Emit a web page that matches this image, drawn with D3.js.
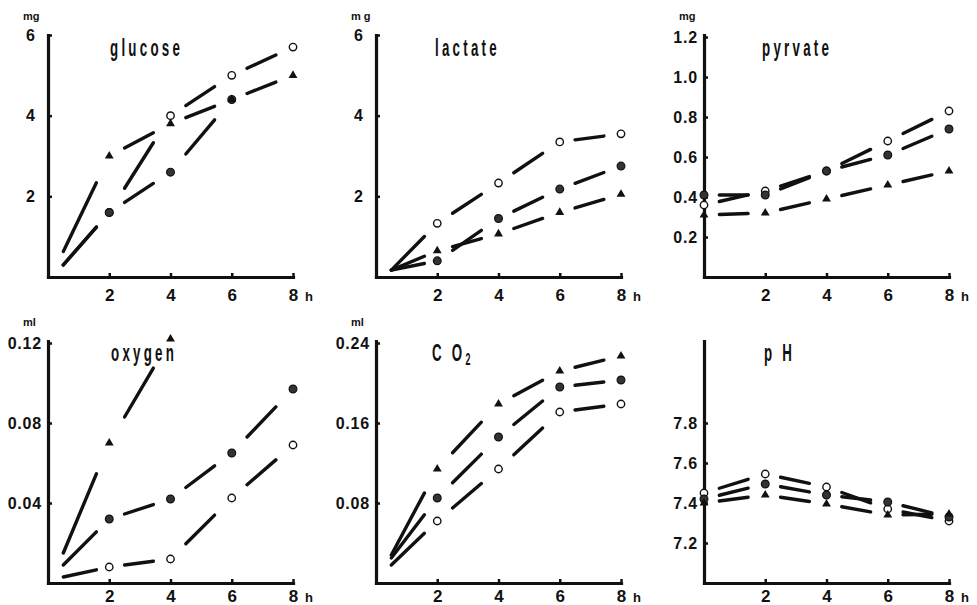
<!DOCTYPE html>
<html>
<head>
<meta charset="utf-8">
<script src="https://cdn.jsdelivr.net/npm/d3@7"></script>
<style>
  body { margin: 0; background: #fff; }
  svg { display: block; }
  .tick text { font-family: "Liberation Sans", Arial, sans-serif; font-weight: bold; }
</style>
</head>
<body>
<div id="chart"></div>
<script>
// DATA
const hoursLate = [0.5, 2, 4, 6, 8];   // first sample has no marker
const hoursZero = [0, 2, 4, 6, 8];

const glucoseOpen   = [0.3, 1.6, 4.0, 5.0, 5.7];
const glucoseFilled = [0.3, 1.6, 2.6, 4.4, null];
const glucoseTri    = [0.63, 3.0, 3.8, 4.4, 5.0];

const lactateOpen   = [0.17, 1.33, 2.33, 3.35, 3.55];
const lactateFilled = [0.17, 0.4, 1.45, 2.18, 2.75];
const lactateTri    = [0.17, 0.65, 1.07, 1.6, 2.05];

const pyruvateOpen   = [0.36, 0.43, 0.53, 0.68, 0.83];
const pyruvateFilled = [0.41, 0.41, 0.53, 0.61, 0.74];
const pyruvateTri    = [0.31, 0.32, 0.39, 0.46, 0.53];

const oxygenOpen   = [0.003, 0.008, 0.012, 0.0425, 0.069];
const oxygenFilled = [0.009, 0.032, 0.042, 0.065, 0.097];
const oxygenTri    = [0.015, 0.070, 0.122, null, null];

const co2Open   = [0.018, 0.062, 0.114, 0.171, 0.179];
const co2Filled = [0.025, 0.085, 0.146, 0.196, 0.203];
const co2Tri    = [0.028, 0.114, 0.179, 0.212, 0.227];

const phOpen   = [7.45, 7.545, 7.48, 7.37, 7.31];
const phFilled = [7.42, 7.495, 7.44, 7.405, 7.33];
const phTri    = [7.40, 7.44, 7.395, 7.34, 7.345];

const xTicks = [2, 4, 6, 8];
const mgTicks = [2, 4, 6];
const pyrTicks = [0.2, 0.4, 0.6, 0.8, 1.0, 1.2];
const o2Ticks = [0.04, 0.08, 0.12];
const co2Ticks = [0.08, 0.16, 0.24];
const phTicks = [7.2, 7.4, 7.6, 7.8];

// PANELS
const panels = [
  { title: "glucose", unit: "mg", col: 0, row: 0, hours: hoursLate, yDom: [0, 6], ticks: mgTicks, fmt: d3.format("d"),
    open: glucoseOpen, filled: glucoseFilled, tri: glucoseTri, titleX: 110 },
  { title: "lactate", unit: "m g", col: 1, row: 0, hours: hoursLate, yDom: [0, 6], ticks: mgTicks, fmt: d3.format("d"),
    open: lactateOpen, filled: lactateFilled, tri: lactateTri, titleX: 435 },
  { title: "pyrvate", unit: "mg", col: 2, row: 0, hours: hoursZero, yDom: [0, 1.21], ticks: pyrTicks, fmt: d3.format(".1f"),
    open: pyruvateOpen, filled: pyruvateFilled, tri: pyruvateTri, titleX: 762 },
  { title: "oxygen", unit: "ml", col: 0, row: 1, hours: hoursLate, yDom: [0, 0.121], ticks: o2Ticks, fmt: d3.format(".2f"),
    open: oxygenOpen, filled: oxygenFilled, tri: oxygenTri, titleX: 111 },
  { title: "CO2", unit: "ml", col: 1, row: 1, hours: hoursLate, yDom: [0, 0.242], ticks: co2Ticks, fmt: d3.format(".2f"),
    open: co2Open, filled: co2Filled, tri: co2Tri, titleX: 432 },
  { title: "pH", unit: "", col: 2, row: 1, hours: hoursZero, yDom: [7.0, 8.21], ticks: phTicks, fmt: d3.format(".1f"),
    open: phOpen, filled: phFilled, tri: phTri, titleX: 764 }
];

const width = 977, height = 605;
const colX = [48, 376, 704];
const rowBottom = [277, 583];
const rowTitleBase = [56, 361];
const rowLabelDy = [24, 19];
const plotW = 245, plotH = 242;

const svg = d3.select("#chart").append("svg")
  .attr("width", width)
  .attr("height", height);

panels.forEach(p => {
  const x0 = colX[p.col], yb = rowBottom[p.row];
  const x = d3.scaleLinear().domain([0, 8]).range([x0, x0 + plotW]);
  const y = d3.scaleLinear().domain(p.yDom).range([yb, yb - plotH]);
  const g = svg.append("g");
  const short = p.fmt(p.ticks[0]).length == 1;

  // axes
  const yAxis = g.append("g")
    .attr("transform", `translate(${x0},0)`)
    .call(d3.axisLeft(y).tickValues(p.ticks).tickFormat(p.fmt).tickSize(-4).tickSizeOuter(0)
      .tickPadding(short ? 13 : 6));
  yAxis.selectAll("text").attr("font-size", 16).attr("fill", "#111")
    .attr("letter-spacing", short ? 0 : 0.8);

  const xAxis = g.append("g")
    .attr("transform", `translate(0,${yb})`)
    .call(d3.axisBottom(x).tickValues(xTicks).tickSize(-4).tickSizeOuter(0).tickPadding(0));
  xAxis.selectAll("text").attr("font-size", 17).attr("fill", "#111")
    .attr("dy", null).attr("y", rowLabelDy[p.row]);

  [yAxis, xAxis].forEach(a => {
    a.select(".domain").attr("stroke", "#111").attr("stroke-width", 3.2).attr("stroke-linecap", "square");
    a.selectAll(".tick line").attr("stroke", "#111").attr("stroke-width", 2.5);
  });

  g.append("text")
    .attr("x", x(8) + 12).attr("y", yb + rowLabelDy[p.row])
    .attr("font-family", "Liberation Sans, Arial, sans-serif").attr("font-weight", "bold")
    .attr("font-size", 13).attr("fill", "#111")
    .text("h");

  if (p.unit) {
    g.append("text")
      .attr("x", x0 - 25).attr("y", yb - plotH - 15)
      .attr("font-family", "Liberation Sans, Arial, sans-serif").attr("font-weight", "bold")
      .attr("font-size", 11).attr("fill", "#111")
      .text(p.unit);
  }

  // title, squeezed sideways and stretched up like the condensed original
  const t = g.append("g")
    .attr("transform", `translate(${p.titleX},${rowTitleBase[p.row]}) scale(0.74,1.32)`)
    .append("text")
    .attr("font-family", "Liberation Sans, Arial, sans-serif")
    .attr("font-weight", "bold").attr("font-size", 18)
    .attr("letter-spacing", 4.4).attr("fill", "#111");
  if (p.title == "CO2") {
    t.append("tspan").text("C O");
    t.append("tspan").attr("font-size", 12).attr("dy", 3).text("2");
  } else if (p.title == "pH") {
    t.text("p H");
  } else {
    t.text(p.title);
  }

  // dashed segments: one dash per interval, gaps at the markers
  const series = [p.open, p.filled, p.tri];
  const segs = [];
  series.forEach(vals => {
    for (let i = 0; i < vals.length - 1; i++) {
      if (vals[i] == null || vals[i + 1] == null) continue;
      const ax = x(p.hours[i]), ay = y(vals[i]);
      const bx = x(p.hours[i + 1]), by = y(vals[i + 1]);
      const t0 = (i == 0 && p.hours[0] > 0) ? 0 : 0.25, t1 = 0.72;
      segs.push({ x1: ax + (bx - ax) * t0, y1: ay + (by - ay) * t0,
                  x2: ax + (bx - ax) * t1, y2: ay + (by - ay) * t1 });
    }
  });
  g.append("g")
    .attr("stroke", "#111").attr("stroke-width", 3.4).attr("stroke-linecap", "round")
    .selectAll("line").data(segs).join("line")
    .attr("x1", d => d.x1).attr("y1", d => d.y1)
    .attr("x2", d => d.x2).attr("y2", d => d.y2);

  // markers (the unmarked 0.5 h start gets none)
  const pts = (vals) => vals.map((v, i) => ({ h: p.hours[i], v: v }))
    .filter(d => d.v != null && (d.h == 0 || d.h >= 1));

  g.append("g").selectAll("circle").data(pts(p.open)).join("circle")
    .attr("cx", d => x(d.h)).attr("cy", d => y(d.v)).attr("r", 3.7)
    .attr("fill", "#fff").attr("stroke", "#111").attr("stroke-width", 1.4);

  g.append("g").selectAll("circle").data(pts(p.filled)).join("circle")
    .attr("cx", d => x(d.h)).attr("cy", d => y(d.v)).attr("r", 3.9)
    .attr("fill", "#333").attr("stroke", "#111").attr("stroke-width", 1.2);

  g.append("g").selectAll("path").data(pts(p.tri)).join("path")
    .attr("transform", d => `translate(${x(d.h)},${y(d.v)})`)
    .attr("d", d3.symbol(d3.symbolTriangle, 34))
    .attr("fill", "#111");
});
</script>
</body>
</html>
